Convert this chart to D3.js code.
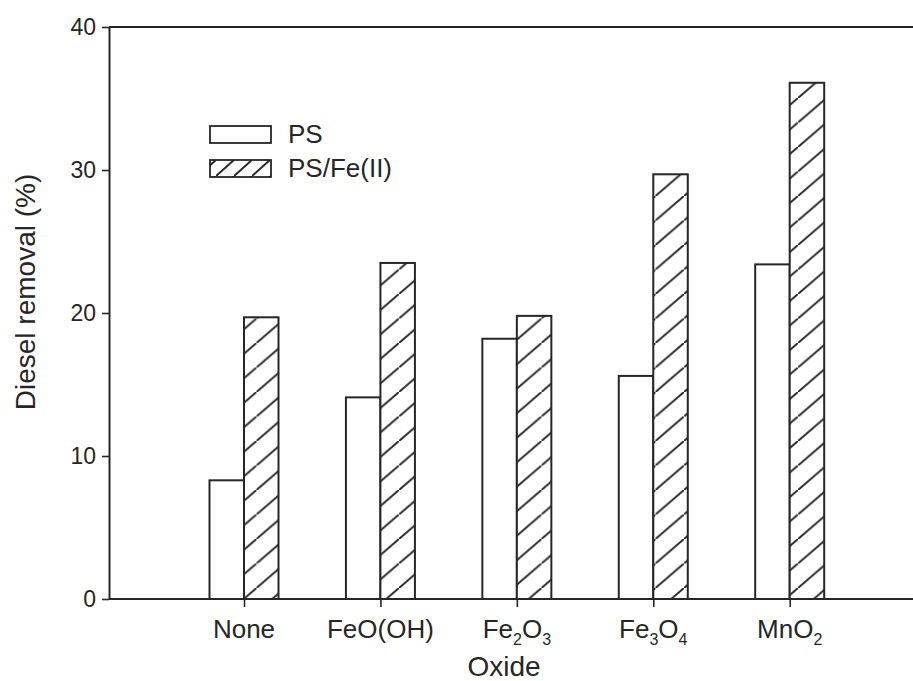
<!DOCTYPE html>
<html>
<head>
<meta charset="utf-8">
<script src="https://cdn.jsdelivr.net/npm/d3@7"></script>
<style>
  body { margin: 0; background: #fff; }
  svg { display: block; font-family: "Liberation Sans", Arial, sans-serif; }
</style>
</head>
<body>
<script>
// categories and series
const oxides = ["None", "FeO(OH)", "Fe2O3", "Fe3O4", "MnO2"];
// how each label is printed: [text, isSubscript] pieces
const oxideLabels = [
    [["None", false]],
    [["FeO(OH)", false]],
    [["Fe", false], ["2", true], ["O", false], ["3", true]],
    [["Fe", false], ["3", true], ["O", false], ["4", true]],
    [["MnO", false], ["2", true]]
];
const psValues = [8.3, 14.1, 18.2, 15.6, 23.4];
const psFeValues = [19.7, 23.5, 19.8, 29.7, 36.1];
const seriesNames = ["PS", "PS/Fe(II)"];
const yTicks = [0, 10, 20, 30, 40];

const width = 913;
const height = 681;
const margin = { left: 109, top: 27, bottom: 599 };
const ink = "#262626";

const svg = d3.select("body")
    .append("svg")
    .attr("width", width)
    .attr("height", height);

// hatch patterns: one for the bars, a tighter one for the legend swatch
const defs = svg.append("defs");
function hatch(id, w, h) {
    const p = defs.append("pattern")
        .attr("id", id)
        .attr("patternUnits", "userSpaceOnUse")
        .attr("width", w)
        .attr("height", h);
    p.append("rect").attr("width", w).attr("height", h).attr("fill", "#fff");
    p.append("path")
        .attr("d", `M${-w},${2 * h} L${2 * w},${-h}`)
        .attr("stroke", ink)
        .attr("stroke-width", 2);
    return "url(#" + id + ")";
}
const barHatch = hatch("hatchBar", 28.5, 24.5);
const legendHatch = hatch("hatchLegend", 18, 16);

const y = d3.scaleLinear().domain([0, 40]).range([margin.bottom, margin.top]);
const x = d3.scalePoint().domain(oxides).range([244, 789.7]);
const bw = 34.5;

// top frame line (no right border in the figure)
svg.append("line")
    .attr("x1", margin.left).attr("x2", width)
    .attr("y1", y(40)).attr("y2", y(40))
    .attr("stroke", ink).attr("stroke-width", 2);

// bars
const g = svg.append("g").attr("stroke", ink).attr("stroke-width", 2);
g.selectAll(".ps")
    .data(oxides)
    .join("rect")
    .attr("class", "ps")
    .attr("x", d => x(d) - bw)
    .attr("width", bw)
    .attr("y", (d, i) => y(psValues[i]))
    .attr("height", (d, i) => y(0) - y(psValues[i]))
    .attr("fill", "#fff");

g.selectAll(".psfe")
    .data(oxides)
    .join("rect")
    .attr("class", "psfe")
    .attr("x", d => x(d))
    .attr("width", bw)
    .attr("y", (d, i) => y(psFeValues[i]))
    .attr("height", (d, i) => y(0) - y(psFeValues[i]))
    .attr("fill", barHatch);

// y axis
const yAxis = svg.append("g")
    .attr("transform", `translate(${margin.left},0)`)
    .call(d3.axisLeft(y).tickValues(yTicks).tickSize(7).tickPadding(6).tickSizeOuter(0));
yAxis.select(".domain").attr("stroke", ink).attr("stroke-width", 2);
yAxis.selectAll(".tick line").attr("stroke", ink).attr("stroke-width", 1.6);
yAxis.selectAll(".tick text")
    .attr("fill", ink)
    .style("font-size", "23px")
    .style("font-family", "Liberation Sans, Arial, sans-serif");

// x axis: line runs to the right edge
svg.append("line")
    .attr("x1", margin.left).attr("x2", width)
    .attr("y1", y(0)).attr("y2", y(0))
    .attr("stroke", ink).attr("stroke-width", 2);
const xAxis = svg.append("g")
    .attr("transform", `translate(0,${y(0)})`)
    .call(d3.axisBottom(x).tickSize(8).tickSizeOuter(0));
xAxis.select(".domain").remove();
xAxis.selectAll(".tick text").remove();
xAxis.selectAll(".tick line").attr("stroke", ink).attr("stroke-width", 1.6);

// category labels with subscripts
oxides.forEach((d, i) => {
    const t = svg.append("text")
        .attr("x", x(d))
        .attr("y", 638)
        .attr("text-anchor", "middle")
        .attr("fill", ink)
        .style("font-size", "26px");
    let low = false;
    oxideLabels[i].forEach(([txt, sub]) => {
        const span = t.append("tspan").text(txt);
        if (sub && !low) span.attr("dy", 7);
        if (!sub && low) span.attr("dy", -7);
        if (sub) span.style("font-size", "16px");
        low = sub;
    });
});

// axis titles
svg.append("text")
    .attr("x", 504)
    .attr("y", 676)
    .attr("text-anchor", "middle")
    .attr("fill", ink)
    .style("font-size", "28px")
    .text("Oxide");

svg.append("text")
    .attr("transform", "translate(35,292) rotate(-90)")
    .attr("text-anchor", "middle")
    .attr("fill", ink)
    .style("font-size", "28px")
    .text("Diesel removal (%)");

// legend
const legendFills = ["#fff", legendHatch];
const legend = svg.append("g");
legend.selectAll("rect")
    .data(seriesNames)
    .join("rect")
    .attr("x", 210)
    .attr("y", (d, i) => 126 + i * 34)
    .attr("width", 61)
    .attr("height", 17)
    .attr("fill", (d, i) => legendFills[i])
    .attr("stroke", ink)
    .attr("stroke-width", 1.8);
legend.selectAll("text")
    .data(seriesNames)
    .join("text")
    .attr("x", 288)
    .attr("y", (d, i) => 143 + i * 34)
    .attr("fill", ink)
    .style("font-size", "26px")
    .text(d => d);
</script>
</body>
</html>
